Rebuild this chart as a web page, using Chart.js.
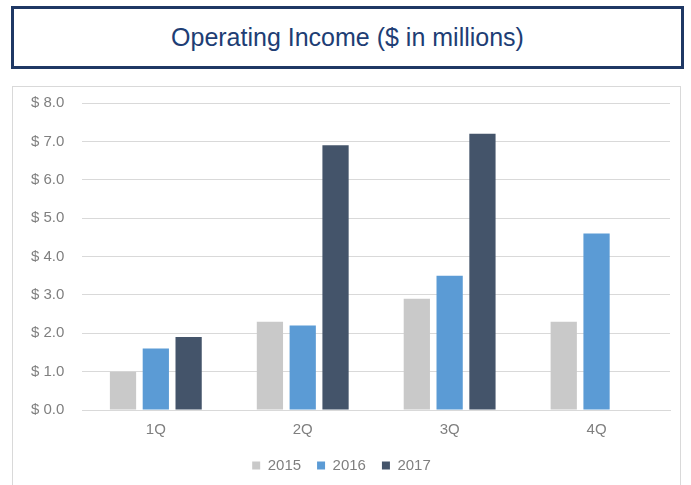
<!DOCTYPE html>
<html lang="en">
  <head>
    <meta charset="UTF-8">
    <title>Operating Income</title>
    <script src="https://cdn.jsdelivr.net/npm/chart.js@4.4.1/dist/chart.umd.min.js"></script>
    <style>
      body { margin: 0; background: #fff; width: 691px; height: 485px; overflow: hidden; position: relative; font-family: "Liberation Sans", Arial, sans-serif; }
      #title {
        position: absolute; left: 11px; top: 6px; width: 667px; height: 57px;
        border: 3px solid #1f3864; color: #203d74;
        font-size: 25px; line-height: 57px; text-align: center;
      }
      #panel {
        position: absolute; left: 12px; top: 86px; width: 667px; height: 400px;
        border: 1px solid #d9d9d9; border-bottom: none;
      }
      #chart { display: block; margin-top: -11px; }
    </style>
  </head>
  <body>
    <div id="title">Operating Income ($ in millions)</div>
    <div id="panel"><canvas id="chart" width="667" height="411"></canvas></div>
    <script>
    const quarters = ['1Q', '2Q', '3Q', '4Q'];
    const years = ['2015', '2016', '2017'];
    const income2015 = [1.0, 2.3, 2.9, 2.3];
    const income2016 = [1.6, 2.2, 3.5, 4.6];
    const income2017 = [1.9, 6.9, 7.2, null];
    const yTicks = [0, 1, 2, 3, 4, 5, 6, 7, 8];
    const colors = ['#c9c9c9', '#5b9bd5', '#44546a'];
    const font = { family: '"Liberation Sans", Arial, sans-serif', size: 15 };

    const series = [income2015, income2016, income2017];
    const ctx = document.getElementById('chart').getContext('2d');
    new Chart(ctx, {
      type: 'bar',
      data: {
        labels: quarters,
        datasets: years.map((y, i) => ({
          label: y,
          data: series[i],
          backgroundColor: colors[i],
          borderWidth: 0,
          barPercentage: 0.8,
          categoryPercentage: 0.67
        }))
      },
      options: {
        responsive: false,
        animation: false,
        layout: { padding: { left: 0, right: 10, top: 0, bottom: 4 } },
        plugins: {
          tooltip: { enabled: false },
          legend: {
            position: 'bottom',
            labels: {
              boxWidth: 8, boxHeight: 8, padding: 16,
              color: '#7f7f7f',
              font: font
            }
          }
        },
        scales: {
          x: {
            grid: { display: false },
            border: { color: '#d9d9d9' },
            ticks: { color: '#7f7f7f', padding: 3, font: font }
          },
          y: {
            min: 0, max: 8,
            afterBuildTicks: axis => { axis.ticks = yTicks.map(v => ({ value: v })); },
            grid: { color: '#d9d9d9', drawTicks: false },
            border: { display: false },
            ticks: {
              color: '#7f7f7f', padding: 18,
              font: font,
              callback: v => '$ ' + v.toFixed(1)
            }
          }
        }
      }
    });
    </script>
  </body>
</html>
